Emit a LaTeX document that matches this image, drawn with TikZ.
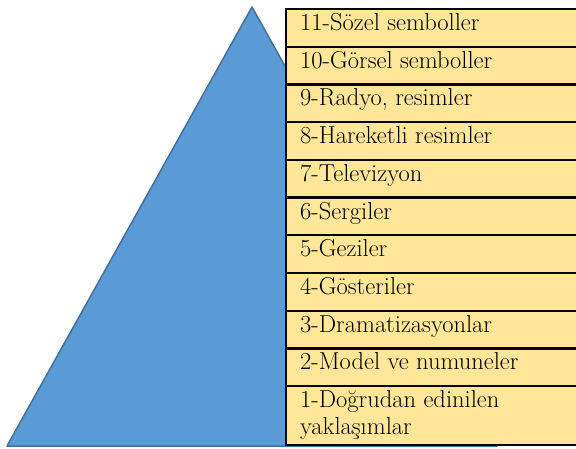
\documentclass[tikz,border=0pt]{standalone}
\usepackage{fontspec}
\definecolor{triblue}{HTML}{5B9BD5}
\definecolor{triedge}{HTML}{41719C}
\definecolor{rowfill}{HTML}{FFE699}
\begin{document}
\begin{tikzpicture}[x=1pt,y=1pt,
  rowbox/.style={draw=black, line width=2.2pt, fill=rowfill, inner sep=0pt,
    anchor=north west, minimum width=320pt},
  rowtext/.style={anchor=base west, inner sep=0pt,
    font=\fontsize{24.5}{26.5}\selectfont, align=left}]
\useasboundingbox (0,0) rectangle (576,448);
\clip (0,0) rectangle (576,448);
\coordinate (apex) at (252,441);
\coordinate (bl) at (7,2);
\coordinate (br) at (497,2);
\draw[fill=triblue, draw=triedge, line width=1.5pt, line join=round] (bl) -- (apex) -- (br) -- cycle;
\foreach \k/\t in {0/{11-Sözel semboller},1/{10-Görsel semboller},2/{9-Radyo, resimler},
  3/{8-Hareketli resimler},4/{7-Televizyon},5/{6-Sergiler},6/{5-Geziler},
  7/{4-Gösteriler},8/{3-Dramatizasyonlar},9/{2-Model ve numuneler}}{
  \node[rowbox, minimum height=37.7pt] (row\k) at (285,{440-37.7*\k}) {};
  \node[rowtext] (txt\k) at ([xshift=15pt,yshift=-22.5pt]row\k.north west) {\t};
}
\node[rowbox, minimum height=59pt] (row10) at (285,63) {};
\node[rowtext, anchor=north west] (txt10) at ([xshift=15pt,yshift=-5.5pt]row10.north west) {1-Doğrudan edinilen\\yaklaşımlar};
\end{tikzpicture}
\end{document}
